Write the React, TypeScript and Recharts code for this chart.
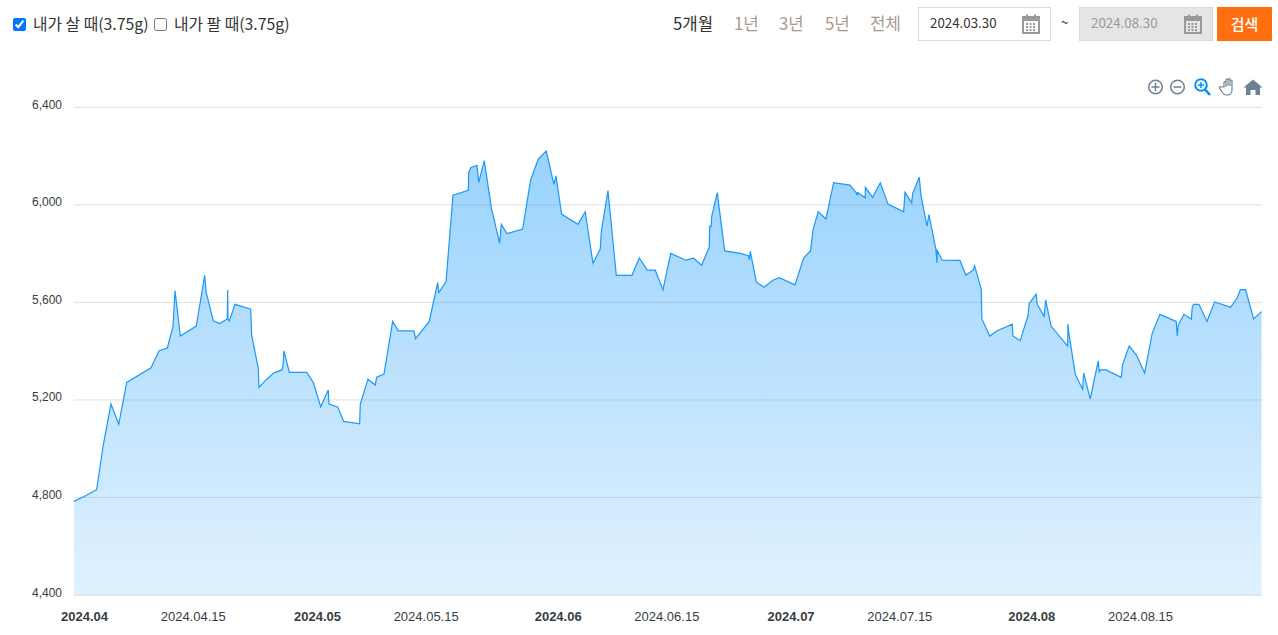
import React from "react";
import { AreaChart, Area, XAxis, YAxis, CartesianGrid } from "recharts";

// days since 2024-03-30
const days = [0,1.42,2.92,3.77,4.76,5.76,6.79,9.92,10.95,12.02,12.75,13.01,13.69,15.75,16.83,17,17.94,18.76,19.74,19.79,19.83,20,20.73,22.76,22.88,23.73,23.82,24.82,25.8,26.79,26.92,27.04,27.73,29.97,30.82,31.77,32.75,32.84,33.96,34.73,36.79,36.87,37.86,38.8,38.98,39.92,41.04,41.76,43.78,44,45.75,46.84,46.97,47.91,48.81,50.78,50.83,51.09,51.9,52.12,52.84,53.79,53.92,54.82,55.03,55.76,57.78,58.81,59.79,60.82,61.81,62.07,62.8,64.9,65.84,66.84,67.78,67.91,68.77,69.84,71.86,72.8,73.83,74.86,75.85,76.84,78.81,79.8,80.83,81.81,81.87,82.07,82.12,82.84,83.8,85.86,86.89,86.97,87.1,87.87,88.86,90.06,90.83,92.85,93.97,94.87,95.17,95.85,96.84,97.83,99.93,100.8,100.87,100.92,101.9,101.92,102.86,103.84,104.83,106.85,107.02,107.88,108.01,108.86,109.08,109.85,110.11,111.01,111.14,111.18,111.82,114.1,114.87,115.81,115.99,116.84,116.93,117.92,118.9,120.83,120.92,121.86,122.86,123.02,123.92,124.05,124.95,125.13,125.85,127.97,128.01,128.1,128.95,129.9,130.03,130.88,131.91,132.04,132.17,132.9,134.87,135.05,135.9,136.85,137.88,138.86,139.85,141.95,142.08,142.21,142.95,143.89,144.02,144.2,144.88,145.91,146.9,148.96,149.81,150.2,150.89,151.92,152.94];
const prices = [4784,4806,4832,5015,5183,5100,5272,5332,5402,5413,5500,5648,5462,5503,5711,5644,5524,5513,5532,5651,5532,5524,5592,5572,5466,5330,5252,5285,5312,5323,5342,5401,5313,5313,5271,5172,5241,5183,5171,5112,5102,5183,5285,5261,5293,5306,5522,5483,5483,5451,5522,5681,5640,5684,6040,6060,6132,6152,6162,6092,6181,5979,5965,5842,5920,5882,5901,6102,6188,6221,6084,6119,5962,5920,5972,5760,5819,5890,6058,5711,5711,5782,5732,5732,5651,5801,5773,5781,5752,5827,5912,5912,5951,6050,5811,5801,5790,5774,5809,5684,5662,5692,5701,5672,5782,5812,5897,5972,5942,6091,6081,6047,6039,6050,6029,6072,6031,6091,6003,5971,6051,6009,6047,6113,6040,5913,5960,5815,5763,5812,5773,5772,5711,5733,5750,5655,5532,5462,5484,5511,5462,5443,5545,5596,5634,5592,5543,5610,5502,5421,5511,5480,5305,5244,5310,5204,5360,5313,5323,5323,5293,5346,5421,5383,5310,5473,5551,5522,5462,5506,5551,5531,5580,5592,5592,5522,5602,5580,5619,5652,5652,5532,5562];

const tickDays = [2,16,32,46,63,77,93,107,124,138];
const tickLabels = ["2024.04","2024.04.15","2024.05","2024.05.15","2024.06","2024.06.15","2024.07","2024.07.15","2024.08","2024.08.15"];
const yTicks = [4400,4800,5200,5600,6000,6400];
const rangeLabels = ["5개월","1년","3년","5년","전체"];
const rangeLefts = [673,734,779,825,870];

const table = days.map((day, i) => ({ day, price: prices[i] }));
const KR = '"Noto Sans CJK KR", sans-serif';
const AR = '"Liberation Sans", Arial, sans-serif';

const XTick = (p: any) => {
  const i = tickDays.indexOf(p.payload.value);
  const label = tickLabels[i];
  const month = label.length === 7;
  return (
    <text x={p.x - 5} y={621} textAnchor="middle" fontFamily={AR} fontSize={13} fontWeight={month ? 700 : 400} fill="#373d3f">
      {label}
    </text>
  );
};
const YTick = (p: any) => (
  <text x={62} y={p.y + 1.5} textAnchor="end" fontFamily={AR} fontSize={12} fill="#373d3f">
    {Number(p.payload.value).toLocaleString("en-US")}
  </text>
);

const Cal = ({ color }: { color: string }) => (
  <svg width="18" height="20" viewBox="0 0 18 20" style={{ position: "absolute", right: 10, top: 6 }}>
    <rect x="1" y="3" width="16" height="16" fill="none" stroke={color} strokeWidth="2" />
    <rect x="1" y="3" width="16" height="4" fill={color} />
    <rect x="4" y="0.5" width="2" height="5" fill={color} />
    <rect x="12" y="0.5" width="2" height="5" fill={color} />
    {[9, 12, 15].map((y) => [4, 7.5, 11].map((x) => <rect key={x + "-" + y} x={x} y={y} width="2" height="2" fill={color} />))}
  </svg>
);

const DateBox = ({ left, width, value, disabled }: any) => (
  <div style={{ position: "absolute", left, top: 7, width, height: 34, boxSizing: "border-box", border: "1px solid #d9d9d9", background: disabled ? "#e5e5e5" : "#fff" }}>
    <span style={{ position: "absolute", left: 11, top: 5, fontFamily: KR, fontSize: 13.33, lineHeight: "20px", color: disabled ? "#999" : "#333" }}>{value}</span>
    <Cal color="#999" />
  </div>
);

const Toolbar = () => {
  const c = "#6e8192";
  return (
    <svg width="125" height="24" style={{ position: "absolute", left: 1145, top: 75 }}>
      <g fill="none" stroke={c} strokeWidth="1.5">
        <circle cx="10.5" cy="12" r="6.8" />
        <path d="M6.5 12h8M10.5 8v8" />
        <circle cx="32.5" cy="12" r="6.8" />
        <path d="M28.5 12h8" />
      </g>
      <g fill="none" stroke="#008ffb" strokeWidth="2">
        <circle cx="56" cy="10" r="5.8" />
        <path d="M53 10h6M56 7v6" strokeWidth="1.5" />
        <path d="M60 14.5l5 5.5" strokeWidth="2.6" />
      </g>
      <path d="M79 12V7.5a1 1 0 0 1 2 0V12V5a1 1 0 0 1 2 0V11V4.5a1 1 0 0 1 2 0V11V6a1 1 0 0 1 2 0V15c0 3-2 5-4.5 5h-1.5c-2 0-3-1.500-4-3l-2.500-4c-.7-1.200 1-2 2-1z" fill="#fff" stroke={c} strokeWidth="1.200" />
      <path d="M108 4.500l9.500 8h-2.500v7.500h-4.500v-5h-5v5h-4.500v-7.500h-2.500z" fill={c} />
    </svg>
  );
};

export default function App() {
  return (
    <div style={{ position: "absolute", left: 0, top: 0, width: 1278, height: 635, background: "#fff", overflow: "hidden" }}>
      <input type="checkbox" defaultChecked style={{ position: "absolute", left: 13, top: 18, width: 13, height: 13, margin: 0 }} />
      <span style={{ position: "absolute", left: 33, top: 12.5, fontFamily: KR, fontSize: 15.8, lineHeight: "22px", color: "#333", whiteSpace: "nowrap" }}>내가 살 때(3.75g)</span>
      <input type="checkbox" style={{ position: "absolute", left: 154, top: 18, width: 13, height: 13, margin: 0 }} />
      <span style={{ position: "absolute", left: 174, top: 12.5, fontFamily: KR, fontSize: 15.8, lineHeight: "22px", color: "#333", whiteSpace: "nowrap" }}>내가 팔 때(3.75g)</span>

      {rangeLabels.map((t, i) => (
        <span key={t} style={{ position: "absolute", left: rangeLefts[i], top: 12, fontFamily: KR, fontSize: 16.8, lineHeight: "22px", color: i === 0 ? "#333" : "#a59a90", whiteSpace: "nowrap" }}>{t}</span>
      ))}
      <DateBox left={918} width={133} value="2024.03.30" />
      <span style={{ position: "absolute", left: 1061, top: 12, fontFamily: KR, fontSize: 13, lineHeight: "20px", color: "#333" }}>~</span>
      <DateBox left={1079} width={134} value="2024.08.30" disabled />
      <div style={{ position: "absolute", left: 1217, top: 7, width: 55, height: 34, background: "#ff6f0f", color: "#fff", fontFamily: KR, fontSize: 15, fontWeight: 500, lineHeight: "34px", textAlign: "center" }}>검색</div>

      <div style={{ position: "absolute", left: 0, top: 0 }}>
        <AreaChart width={1278} height={635} data={table} margin={{ top: 107.3, right: 16, bottom: 0, left: 0 }}>
          <defs>
            <linearGradient id="goldFill" x1="0" y1="0" x2="0" y2="1">
              <stop offset="0%" stopColor="#008ffb" stopOpacity={0.4} />
              <stop offset="100%" stopColor="#008ffb" stopOpacity={0.12} />
            </linearGradient>
          </defs>
          <CartesianGrid horizontal vertical={false} stroke="#e0e0e0" />
          <XAxis dataKey="day" type="number" domain={[0, 153]} ticks={tickDays} interval={0} height={40} axisLine={{ stroke: "#e0e0e0" }} tickLine={false} tick={XTick} />
          <YAxis type="number" domain={[4400, 6400]} ticks={yTicks} width={74} axisLine={false} tickLine={false} interval={0} tick={YTick} />
          <Area type="linear" dataKey="price" stroke="#1a98fb" strokeWidth={1.2} fill="url(#goldFill)" fillOpacity={1} dot={false} activeDot={false} isAnimationActive={false} />
        </AreaChart>
      </div>
      <Toolbar />
    </div>
  );
}
